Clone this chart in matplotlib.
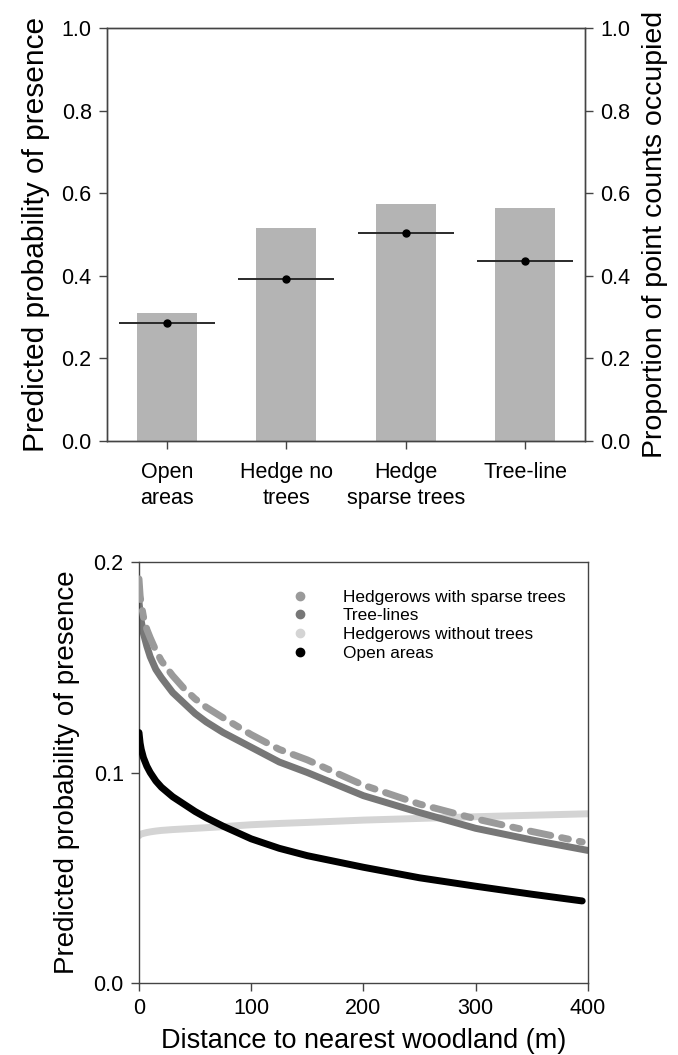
import matplotlib.pyplot as plt
import numpy as np

plt.rcParams['font.family'] = ['Liberation Sans', 'DejaVu Sans']

# top panel: habitat categories
habitats = ["Open\nareas", "Hedge no\ntrees", "Hedge\nsparse trees", "Tree-line"]
prop_occupied = [0.310, 0.515, 0.574, 0.563]     # bars (right axis)
pred_presence = [0.285, 0.393, 0.503, 0.435]     # dots (left axis)

# bottom panel: predicted probability vs distance to woodland
dist = [0, 1, 2, 4, 7, 10, 15, 20, 30, 40, 50, 60, 75, 100, 125, 150, 200, 250, 300, 350, 395]
dist_tl = [0, 1, 2, 4, 7, 10, 15, 20, 30, 40, 50, 60, 75, 100, 125, 150, 200, 250, 300, 350, 400]
p_sparse = [0.192, 0.184, 0.180, 0.174, 0.168, 0.164, 0.158, 0.153, 0.146, 0.140, 0.135,
            0.131, 0.126, 0.118, 0.111, 0.106, 0.094, 0.085, 0.078, 0.072, 0.067]
p_treeline = [0.181, 0.176, 0.172, 0.166, 0.160, 0.155, 0.149, 0.145, 0.138, 0.133, 0.128,
              0.124, 0.119, 0.112, 0.105, 0.100, 0.089, 0.081, 0.0735, 0.068, 0.063]
p_notrees = [0.0700, 0.0705, 0.0708, 0.0711, 0.0715, 0.0718, 0.0722, 0.0725, 0.0729, 0.0732,
             0.0735, 0.0738, 0.0743, 0.0752, 0.0758, 0.0763, 0.0774, 0.0782, 0.0790, 0.0797, 0.0804]
p_open = [0.119, 0.114, 0.111, 0.107, 0.103, 0.100, 0.096, 0.093, 0.0885, 0.0850, 0.0815,
          0.0785, 0.0745, 0.0685, 0.0640, 0.0605, 0.0550, 0.0500, 0.0460, 0.0422, 0.0390]

spine_col = "#444444"

fig = plt.figure(figsize=(6.78, 10.55), dpi=100)

# ---------- top panel ----------
ax1 = fig.add_axes([0.1578, 0.582, 0.705, 0.3915])
x = np.arange(len(habitats))
ax2 = ax1.twinx()
ax1.bar(x, prop_occupied, width=0.5, color="#b4b4b4", zorder=1)
ax1.hlines(pred_presence, x - 0.4, x + 0.4, color="#2a2a2a", lw=1.4, zorder=2)
ax1.plot(x, pred_presence, "o", color="black", ms=5, zorder=3)

ax1.set_xlim(-0.5, 3.5)
ax1.set_ylim(0, 1)
ax2.set_ylim(0, 1)
ax1.set_xticks(x)
ax1.set_xticklabels(habitats, fontsize=15.5, linespacing=1.3)
ticks = [0, 0.2, 0.4, 0.6, 0.8, 1.0]
for a in (ax1, ax2):
    a.set_yticks(ticks)
    a.set_yticklabels(["%.1f" % t for t in ticks], fontsize=15.5)
    for s in a.spines.values():
        s.set_color(spine_col)
        s.set_linewidth(1.0)
    a.tick_params(direction="out", length=6, width=1.0, color=spine_col, pad=5)
ax1.tick_params(axis="x", pad=9)
ax1.set_ylabel("Predicted probability of presence", fontsize=21.5, labelpad=8)
ax2.set_ylabel("Proportion of point counts occupied", fontsize=20.5, labelpad=8)

# ---------- bottom panel ----------
ax3 = fig.add_axes([0.205, 0.0682, 0.662, 0.3991])
ax3.plot(dist_tl, p_notrees, color="#d4d4d4", lw=5, solid_capstyle="round",
         label="Hedgerows without trees", zorder=1)
ax3.plot(dist_tl, p_treeline, color="#777777", lw=5, solid_capstyle="round",
         label="Tree-lines", zorder=2)
ax3.plot(dist, p_sparse, color="#9a9a9a", lw=5, dash_capstyle="round",
         linestyle=(0, (3.0, 1.6, 1.0, 1.6)), label="Hedgerows with sparse trees", zorder=3)
ax3.plot(dist, p_open, color="black", lw=5, solid_capstyle="round",
         label="Open areas", zorder=4)

ax3.set_xlim(0, 400)
ax3.set_ylim(0, 0.2)
ax3.set_xticks([0, 100, 200, 300, 400])
ax3.set_yticks([0, 0.1, 0.2])
ax3.set_yticklabels(["0.0", "0.1", "0.2"])
ax3.tick_params(direction="out", length=6, width=1.0, color=spine_col, labelsize=15.5, pad=5)
for s in ax3.spines.values():
    s.set_color(spine_col)
    s.set_linewidth(1.0)
ax3.set_xlabel("Distance to nearest woodland (m)", fontsize=19.5, labelpad=6)
ax3.set_ylabel("Predicted probability of presence", fontsize=20, labelpad=10)

# legend with round markers
order = [("Hedgerows with sparse trees", "#9a9a9a"), ("Tree-lines", "#777777"),
         ("Hedgerows without trees", "#d4d4d4"), ("Open areas", "black")]
handles = [plt.Line2D([], [], marker="o", ls="", color=c, ms=6) for _, c in order]
ax3.legend(handles, [n for n, _ in order], loc="upper left", bbox_to_anchor=(0.32, 0.955),
           frameon=False, fontsize=12.4, handletextpad=2.0, labelspacing=0.22,
           borderpad=0, handlelength=1)

plt.savefig("out.png", dpi=100)
